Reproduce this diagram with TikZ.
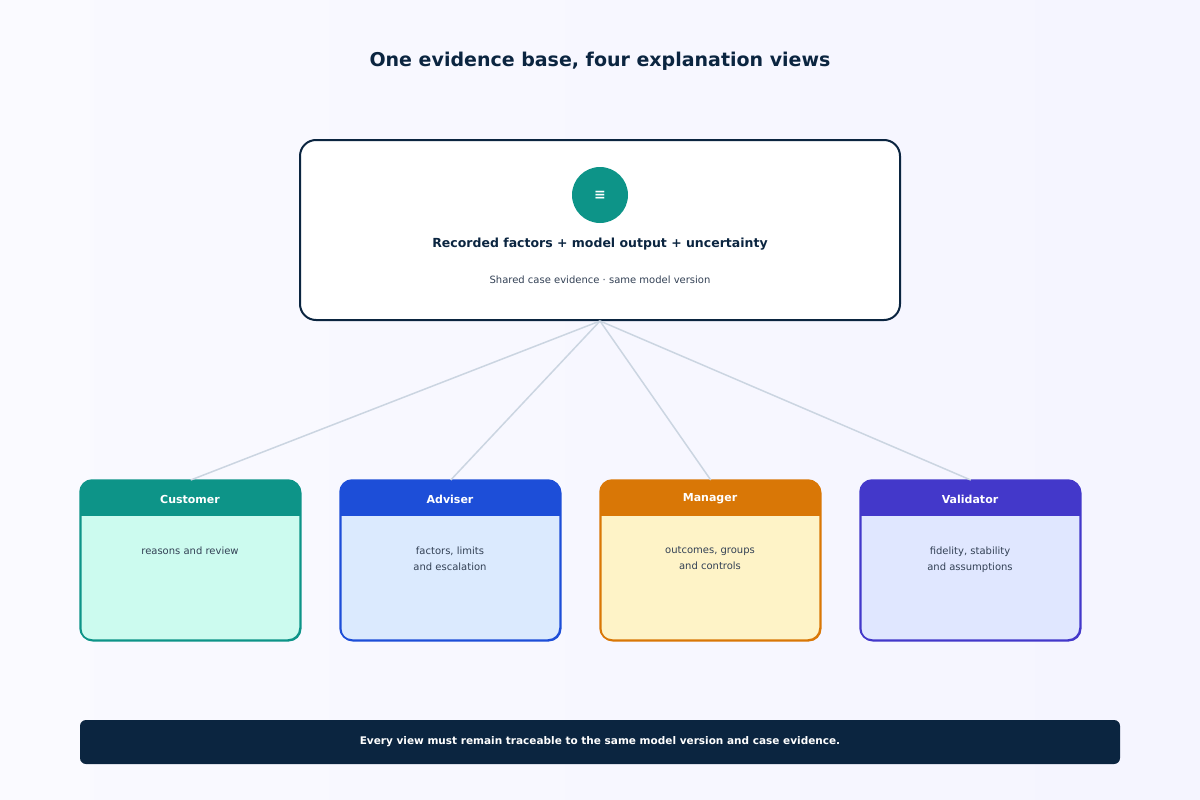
\documentclass[tikz,border=0pt]{standalone}
\usepackage{fontspec}
\setmainfont{DejaVu Sans}
\usetikzlibrary{positioning}
\definecolor{ink}{HTML}{0B2540}
\definecolor{teal}{HTML}{0D9488}
\definecolor{blu}{HTML}{1D4ED8}
\definecolor{amb}{HTML}{D97706}
\definecolor{vio}{HTML}{4338CA}
\definecolor{tealbg}{HTML}{CCFBEF}
\definecolor{blubg}{HTML}{DBEAFE}
\definecolor{ambbg}{HTML}{FEF3C7}
\definecolor{viobg}{HTML}{E0E7FF}
\definecolor{wire}{HTML}{CBD5E1}
\definecolor{body}{HTML}{334155}
\tikzset{
  card/.style={draw=#1, line width=1.5pt, rounded corners=12pt, minimum width=220pt, minimum height=160pt},
  cardtext/.style={font=\fontsize{10}{16}\selectfont, text=body, align=center},
  wire/.style={draw=wire, line width=1.5pt}
}
\newcommand\viewcard[5]{% name, x, colour, title, text
  \node[card=#3, fill=#3bg, anchor=north west] (#1) at (#2,480) {};
  \begin{scope}
    \clip[rounded corners=12pt] (#2,480) rectangle ++(220,160);
    \fill[#3] (#2,480) rectangle ++(220,36);
  \end{scope}
  \draw[#3, line width=1.5pt, rounded corners=12pt] (#2,480) rectangle ++(220,160);
  \node[font=\bfseries\fontsize{11}{13}\selectfont, text=white] (#1-title) at (#2+110,499) {#4};
  \node[cardtext, anchor=north] (#1-text) at (#2+110,543) {#5};
}
\begin{document}
\begin{tikzpicture}[x=1pt,y=-1pt]
  %%% BACKGROUND %%%
  \shade[left color=white!95!blue!40, right color=blue!4] (0,0) rectangle (1200,800);
  \useasboundingbox (0,0) rectangle (1200,800);

  %%% TITLE %%%
  \node[font=\bfseries\fontsize{19}{23}\selectfont, text=ink] (title) at (600,61) {One evidence base, four explanation views};

  %%% EVIDENCE BOX %%%
  \node[draw=ink, fill=white, line width=2pt, rounded corners=16pt, minimum width=600pt, minimum height=180pt] (base) at (600,230) {};
  \node[circle, fill=teal, minimum size=56pt, text=white, font=\bfseries\fontsize{14}{14}\selectfont] (icon) at (600,195) {≡};
  \node[font=\bfseries\fontsize{12.5}{15}\selectfont, text=ink] (basehead) at (600,244) {Recorded factors + model output + uncertainty};
  \node[font=\fontsize{10}{12}\selectfont, text=body] (basesub) at (600,280) {Shared case evidence · same model version};

  %%% VIEWS %%%
  \viewcard{cust}{80}{teal}{Customer}{reasons and review}
  \viewcard{adv}{340}{blu}{Adviser}{factors, limits\\and escalation}
  \viewcard{man}{600}{amb}{Manager}{outcomes, groups\\and controls}
  \viewcard{val}{860}{vio}{Validator}{fidelity, stability\\and assumptions}

  %%% WIRES %%%
  \foreach \v in {cust,adv,man,val}
    \draw[wire] (base.south) -- (\v.north);

  %%% FOOTER %%%
  \node[fill=ink, rounded corners=6pt, minimum width=1040pt, minimum height=44pt, text=white, font=\bfseries\fontsize{10.5}{12}\selectfont] (footer) at (600,742) {Every view must remain traceable to the same model version and case evidence.};
\end{tikzpicture}
\end{document}
